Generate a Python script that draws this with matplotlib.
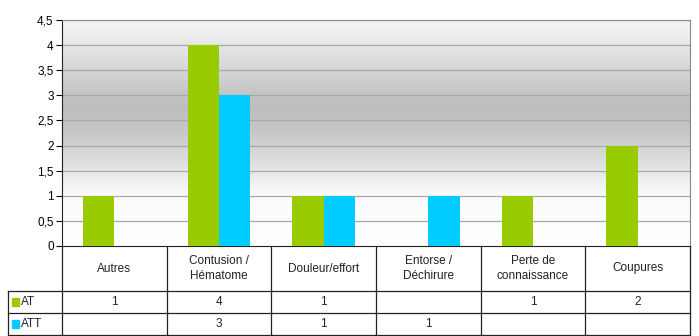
import numpy as np
import matplotlib.pyplot as plt
from matplotlib.lines import Line2D
from matplotlib.patches import Rectangle

plt.rcParams['font.family'] = ['Liberation Sans', 'DejaVu Sans']

categories = ["Autres", "Contusion /\nHématome", "Douleur/effort",
              "Entorse /\nDéchirure", "Perte de\nconnaissance", "Coupures"]
series_names = ["AT", "ATT"]
at_values = [1, 4, 1, 0, 1, 2]
att_values = [0, 3, 1, 1, 0, 0]
at_table = ["1", "4", "1", "", "1", "2"]
att_table = ["", "3", "1", "1", "", ""]
yticks = [0, 0.5, 1, 1.5, 2, 2.5, 3, 3.5, 4, 4.5]
ytick_labels = ["0", "0,5", "1", "1,5", "2", "2,5", "3", "3,5", "4", "4,5"]

green = "#99cc00"
cyan = "#00ccff"

W, H = 699, 336
fig = plt.figure(figsize=(W / 100, H / 100), dpi=100)
ax = fig.add_axes([62 / W, 1 - 246 / H, (690 - 62) / W, (246 - 20) / H])

# background gradient: white top, gray middle, white bottom
grad_y = np.linspace(0, 1, 200)
shade = np.interp(grad_y, [0, 0.22, 0.5, 0.62, 0.78, 1.0],
                  [1.0, 0.985, 0.78, 0.74, 0.84, 0.97])
img = np.dstack([shade, shade, shade])[:, :, :].reshape(200, 1, 3)
ax.imshow(img, extent=[0, 1, 0, 1], transform=ax.transAxes,
          aspect='auto', zorder=0, origin='lower')

x = np.arange(len(categories))
w = 0.3
ax.bar(x - w / 2, at_values, w, color=green, zorder=3)
ax.bar(x + w / 2, att_values, w, color=cyan, zorder=3)

ax.set_xlim(-0.5, len(categories) - 0.5)
ax.set_ylim(0, 4.5)
ax.set_yticks(yticks)
ax.set_yticklabels(ytick_labels, fontsize=8.5)
ax.set_xticks([])
ax.tick_params(axis='y', length=4, width=0.8, pad=2)
for yv in yticks[1:]:
    ax.axhline(yv, color="#a8a8a8", lw=0.9, zorder=1)

for s in ["top", "right"]:
    ax.spines[s].set_color("#888888")
ax.spines["left"].set_color("#222222")
ax.spines["bottom"].set_color("#222222")

# data table below the axes, drawn in pixel coords
def fx(px):
    return px / W

def fy(py):
    return 1 - py / H

col_edges = np.linspace(62, 690, len(categories) + 1)
line_kw = dict(color="#222222", lw=0.9, transform=fig.transFigure)

# horizontal lines
fig.add_artist(Line2D([fx(8), fx(690)], [fy(291), fy(291)], **line_kw))
fig.add_artist(Line2D([fx(8), fx(690)], [fy(313), fy(313)], **line_kw))
fig.add_artist(Line2D([fx(8), fx(690)], [fy(335), fy(335)], **line_kw))
# vertical lines
fig.add_artist(Line2D([fx(8), fx(8)], [fy(291), fy(335)], **line_kw))
for ce in col_edges:
    fig.add_artist(Line2D([fx(ce), fx(ce)], [fy(246), fy(335)], **line_kw))

centers = (col_edges[:-1] + col_edges[1:]) / 2
for cx, cat in zip(centers, categories):
    fig.text(fx(cx), fy(268.5), cat, ha='center', va='center',
             fontsize=8.5, linespacing=1.25, color="#222222")
for cx, v in zip(centers, at_table):
    fig.text(fx(cx), fy(302), v, ha='center', va='center', fontsize=8.5,
             color="#222222")
for cx, v in zip(centers, att_table):
    fig.text(fx(cx), fy(324), v, ha='center', va='center', fontsize=8.5,
             color="#222222")

for name, col, ymid in [(series_names[0], green, 302), (series_names[1], cyan, 324)]:
    fig.add_artist(Rectangle((fx(12), fy(ymid + 4)), 7 / W, 8 / H,
                             color=col, transform=fig.transFigure))
    fig.text(fx(21), fy(ymid), name, ha='left', va='center', fontsize=8.5,
             color="#222222")

fig.savefig("out.png", dpi=100)
